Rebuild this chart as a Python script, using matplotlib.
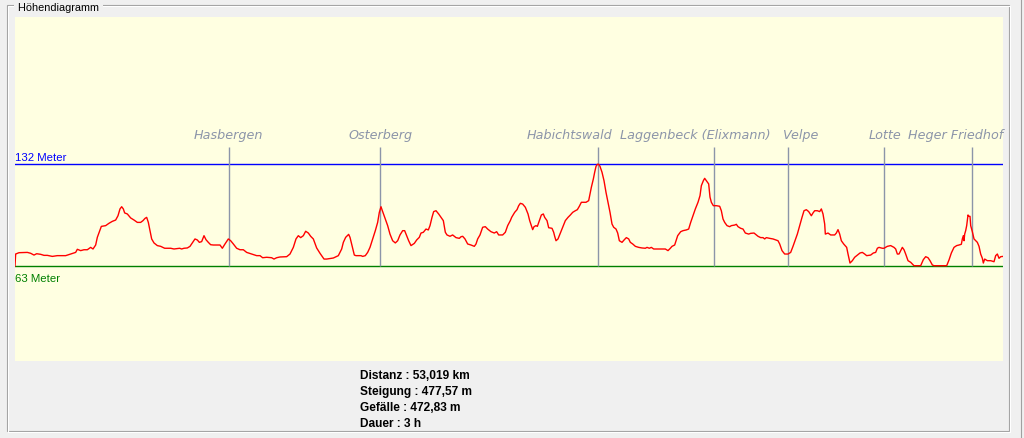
import matplotlib.pyplot as plt
from matplotlib.patches import Rectangle
from matplotlib.lines import Line2D

# ---------------------------------------------------------------- data
dist_km = [0.0, 0.035, 0.214, 0.662, 0.840, 1.019, 1.162, 1.377, 1.556, 1.735, 2.003, 2.271, 2.719, 2.987, 3.255,
           3.345, 3.524, 3.702, 3.881, 4.060, 4.186, 4.329, 4.418, 4.633, 4.865, 5.044, 5.223, 5.402, 5.527, 5.634,
           5.724, 5.813, 5.885, 6.028, 6.207, 6.386, 6.565, 6.743, 6.869, 6.976, 7.066, 7.155, 7.245, 7.334, 7.459,
           7.638, 7.817, 8.032, 8.353, 8.532, 8.836,
           8.943, 9.069, 9.248, 9.391, 9.516, 9.659, 9.784, 9.892, 10.017, 10.142, 10.249, 10.374, 10.500, 10.643,
           11.001, 11.126, 11.269, 11.448, 11.573, 11.716, 11.895, 12.074, 12.253, 12.432, 12.700, 12.968, 13.147,
           13.290, 13.505, 13.773, 13.898, 14.041, 14.220, 14.578, 14.757, 14.936, 15.079, 15.204, 15.330, 15.473,
           15.598, 15.741, 15.866, 16.009, 16.188, 16.367, 16.582, 16.725, 17.083, 17.351, 17.530, 17.620, 17.745,
           17.905, 17.977, 18.084, 18.209, 18.299, 18.567, 18.656, 18.799, 18.925, 19.050, 19.193, 19.336, 19.461,
           19.551, 19.640, 19.730, 19.873, 19.998, 20.123, 20.266, 20.409, 20.535, 20.660, 20.803, 20.910, 21.018,
           21.125, 21.250, 21.429, 21.554, 21.697, 21.787, 21.912, 22.055, 22.180, 22.270, 22.377, 22.467, 22.592,
           22.735, 22.860, 22.985, 23.093, 23.182, 23.343, 23.486, 23.665, 23.844, 23.934, 24.023, 24.148, 24.291,
           24.470, 24.649, 24.739, 24.828, 24.953, 25.096, 25.239, 25.364, 25.543, 25.722, 25.847, 25.955, 26.169,
           26.312, 26.438, 26.581, 26.652,
           26.814, 26.939, 27.029, 27.118, 27.243, 27.387, 27.530, 27.619, 27.708, 27.780, 27.852, 27.959, 28.031,
           28.138, 28.245, 28.352, 28.424, 28.549, 28.639, 28.818, 28.907, 28.961, 29.032, 29.139, 29.265, 29.390,
           29.533, 29.676, 29.801, 29.927, 30.070, 30.177, 30.284, 30.392, 30.642, 30.785, 30.839, 30.928, 31.036,
           31.107, 31.179, 31.250, 31.322, 31.393, 31.501, 31.608, 31.715, 31.823, 31.930, 32.037, 32.127, 32.252,
           32.342, 32.431, 32.574, 32.699, 32.807, 32.932, 33.021, 33.147, 33.290, 33.469, 33.647, 33.826, 33.916,
           34.041, 34.148, 34.274, 34.542, 34.900, 35.042, 35.168, 35.257, 35.400, 35.490, 35.561,
           35.722, 35.847, 36.026, 36.151, 36.259, 36.384, 36.509, 36.652, 36.760, 36.831, 36.939, 37.010, 37.099,
           37.225, 37.296, 37.368, 37.475, 37.636, 37.815, 37.904, 37.994, 38.083, 38.209, 38.352, 38.441, 38.620,
           38.709, 38.799, 38.942, 39.067, 39.192, 39.371, 39.479, 39.658, 39.729, 39.872, 40.015, 40.141, 40.230,
           40.319, 40.498, 40.677, 40.945, 41.035, 41.160, 41.303, 41.482, 41.625, 41.750, 41.876, 41.983, 42.108,
           42.233, 42.341, 42.466, 42.591, 42.734, 42.824, 42.913, 43.056, 43.181, 43.271, 43.360, 43.450, 43.485,
           43.628, 43.772, 43.986, 44.076, 44.165, 44.255, 44.344, 44.469,
           44.630, 44.702, 44.809, 44.934, 45.059, 45.203, 45.346, 45.471, 45.596, 45.703, 45.918, 46.061, 46.186,
           46.276, 46.365, 46.544, 46.634, 46.812, 46.991, 47.170, 47.260, 47.349, 47.439, 47.528, 47.617, 47.707,
           47.796, 47.922, 48.065, 48.243, 48.601, 48.744, 48.870, 48.995, 49.102, 49.227, 49.317, 49.675, 49.997,
           50.122, 50.247, 50.390, 50.533, 50.659, 50.784, 50.837, 50.891, 50.927, 50.963, 51.016, 51.070, 51.141,
           51.195, 51.249, 51.285, 51.374, 51.464, 51.642, 51.732, 51.821, 51.911, 51.964, 52.036, 52.179, 52.358,
           52.537, 52.626, 52.716, 52.805, 52.895, 53.019]
elev_m = [63.0, 71.1, 72.0, 72.2, 71.6, 70.4, 71.3, 70.9, 70.2, 70.2, 69.5, 70.0, 70.0, 71.1, 72.2,
          74.3, 73.4, 74.0, 74.0, 75.6, 74.5, 77.2, 82.4, 89.8, 90.3, 91.9, 93.2, 94.1, 97.0, 101.6,
          103.1, 101.6, 98.9, 98.2, 95.5, 94.1, 92.5, 92.5, 93.7, 95.2, 95.9, 92.5, 86.9, 81.3, 78.6,
          76.8, 76.3, 75.0, 75.0, 74.5, 75.0,
          74.5, 75.0, 75.2, 76.3, 78.6, 81.3, 80.6, 79.0, 79.5, 83.5, 80.8, 79.0, 77.4, 77.2,
          77.2, 75.0, 77.9, 81.3, 80.1, 77.9, 75.0, 74.0, 74.0, 72.2, 71.1, 70.0, 70.0,
          68.6, 68.9, 68.6, 67.7, 68.6, 69.1, 69.3, 71.1, 75.6, 81.3, 83.5, 82.2, 83.5,
          86.5, 85.3, 83.1, 81.3, 75.2, 71.6, 67.7, 67.7, 68.4, 70.0, 74.5, 79.0, 82.4,
          84.4, 82.4, 76.8, 70.4, 70.0, 70.0, 69.5, 70.0, 72.2, 75.6, 81.3, 86.9, 92.5,
          99.3, 103.1, 99.8, 94.8, 90.3, 84.6, 80.1, 78.6, 80.1, 84.0, 86.9, 86.9, 83.5,
          80.1, 76.8, 78.3, 80.6, 82.4, 85.3, 85.8, 88.0, 87.4, 90.3, 95.9, 99.8, 100.4,
          98.2, 95.9, 93.7, 85.8, 84.0, 83.1, 84.0, 82.2, 81.7, 82.8, 83.1, 81.3, 77.9,
          77.2, 76.3, 77.9, 81.3, 84.0, 89.2, 89.6, 88.0, 86.2, 85.3, 86.2, 84.0, 84.0,
          85.8, 90.3, 93.7, 95.9,
          99.3, 101.1, 103.8, 105.4, 104.9, 102.7, 98.2, 93.7, 90.3, 87.6, 89.6, 90.3, 89.8,
          93.7, 97.5, 98.2, 95.9, 93.7, 88.9, 88.5, 85.8, 83.1, 80.1, 81.3, 85.3, 89.2,
          93.7, 95.9, 97.5, 99.3, 100.4, 101.1, 103.4, 106.1, 106.1, 107.2, 110.6, 116.2, 121.9,
          126.4, 130.4, 131.8, 131.8, 130.4, 126.4, 120.7, 112.8, 106.1, 99.3, 91.4, 89.2, 88.0,
          85.3, 80.1, 79.0, 80.8, 82.2, 81.3, 79.0, 77.9, 76.3, 75.6, 75.2, 75.0, 75.6,
          75.0, 75.6, 74.5, 74.5, 74.5, 73.4, 75.0, 76.3, 77.2, 80.6, 83.5,
          86.2, 86.9, 87.4, 88.0, 92.5, 97.0, 101.6, 106.1, 110.6, 117.3, 120.7, 122.3, 120.7,
          118.5, 109.6, 106.1, 103.8, 103.8, 103.4, 100.4, 94.8, 92.5, 90.3, 89.6, 90.3, 90.7,
          91.2, 89.6, 88.5, 88.0, 85.3, 84.6, 85.1, 85.3, 84.6, 83.1, 82.2, 82.2, 81.3,
          82.2, 81.7, 81.3, 80.1, 77.9, 73.4, 71.1, 71.1, 72.2, 76.3, 80.8, 84.6, 90.3,
          95.9, 100.4, 101.1, 99.8, 97.0, 98.9, 100.4, 100.4, 99.8, 101.6, 98.2, 91.4, 84.6,
          85.3, 84.0, 84.0, 85.3, 87.6, 84.6, 80.1, 77.9,
          75.6, 71.1, 65.0, 66.6, 68.9, 70.4, 71.8, 72.2, 71.1, 70.0, 70.4, 71.8, 72.2,
          75.0, 75.6, 75.0, 75.0, 76.3, 76.8, 75.6, 74.5, 71.1, 71.1, 73.4, 75.6, 74.0,
          71.1, 66.6, 65.5, 63.2, 63.2, 67.3, 69.3, 68.6, 66.6, 63.7, 63.2, 63.2, 63.2,
          67.1, 71.8, 75.6, 76.8, 77.2, 77.7, 81.3, 83.5, 80.1, 84.6, 86.9, 90.3, 97.5,
          96.6, 96.6, 90.3, 86.2, 81.3, 79.0, 76.3, 71.1, 68.2, 65.0, 67.7, 66.6, 66.6,
          65.9, 70.0, 71.1, 68.2, 69.3, 69.5]

places = ["Hasbergen", "Osterberg", "Habichtswald", "Laggenbeck (Elixmann)", "Velpe", "Lotte", "Heger Friedhof"]
place_km = [11.47, 19.61, 31.30, 37.53, 41.50, 46.62, 51.34]

elev_max = 132
elev_min = 63
total_km = 53.019
stats = ["Distanz : 53,019 km", "Steigung : 477,57 m", "Gefälle : 472,83 m", "Dauer : 3 h"]

# ---------------------------------------------------------------- layout (window pixels)
W, H = 1024, 439
BG = "#f0f0f0"
PANEL = "#ffffe1"
MARK = "#8c95a9"

def fx(px):
    return px / W

def fy(py):
    return 1 - py / H

fig = plt.figure(figsize=(W / 100, H / 100), dpi=100, facecolor=BG)

# group box frame (etched)
for off, col in [(0, "#a0a0a0"), (1, "#ffffff")]:
    fig.add_artist(Rectangle((fx(7 + off), fy(432 + off)), fx(1002), 426 / H, transform=fig.transFigure,
                             fill=False, edgecolor=col, linewidth=0.8))
fig.add_artist(Line2D([fx(1021), fx(1021)], [0, 1], transform=fig.transFigure, color="#a0a0a0", lw=0.8))
fig.text(fx(15), fy(8), " Höhendiagramm ", family="Liberation Sans", fontsize=7.8, va="center", ha="left",
         bbox=dict(facecolor=BG, edgecolor="none", pad=0.5))

# plotting panel
ax = fig.add_axes([fx(15), fy(362), fx(988), 344 / H], facecolor=PANEL)
for s in ax.spines.values():
    s.set_visible(False)
ax.set_xticks([])
ax.set_yticks([])
ax.set_xlim(0, total_km)
# 132 m sits at window y=165, 63 m at y=267
scale = (elev_max - elev_min) / (267 - 165)
ax.set_ylim(elev_min - (362 - 267) * scale, elev_max + (165 - 18) * scale)

ax.axhline(elev_max, color="#0000ff", lw=1.0)
ax.axhline(elev_min, color="#008000", lw=1.0)
ax.text(0.0, elev_max + 1.3, f"{elev_max} Meter", color="#0000ff", family="Liberation Sans",
        fontsize=8.2, va="bottom", ha="left")
ax.text(0.0, elev_min - 4.5, f"{elev_min} Meter", color="#008000", family="Liberation Sans",
        fontsize=8.2, va="top", ha="left")

# waypoint markers
label_shift = [0, 0, -29, -19, 12, 1, -16]   # pixels, keeps labels from overlapping
ax.vlines(place_km, elev_min, elev_max + (165 - 148) * scale, color=MARK, lw=1.0)
for name, km, dx in zip(places, place_km, label_shift):
    ax.annotate(name, (km, elev_max + (165 - 136) * scale), xytext=(dx * 0.72, 0), textcoords="offset points",
                ha="center", va="center", color=MARK, style="italic", fontsize=9.2, family="DejaVu Sans")

ax.plot(dist_km, elev_m, color="#ff0000", lw=1.0)

# summary below the panel
for i, line in enumerate(stats):
    fig.text(fx(360), fy(376 + 16 * i), line, family="Liberation Sans", fontweight="bold", fontsize=8.6,
             va="center", ha="left")

fig.savefig("out.png", dpi=100, facecolor=BG)
